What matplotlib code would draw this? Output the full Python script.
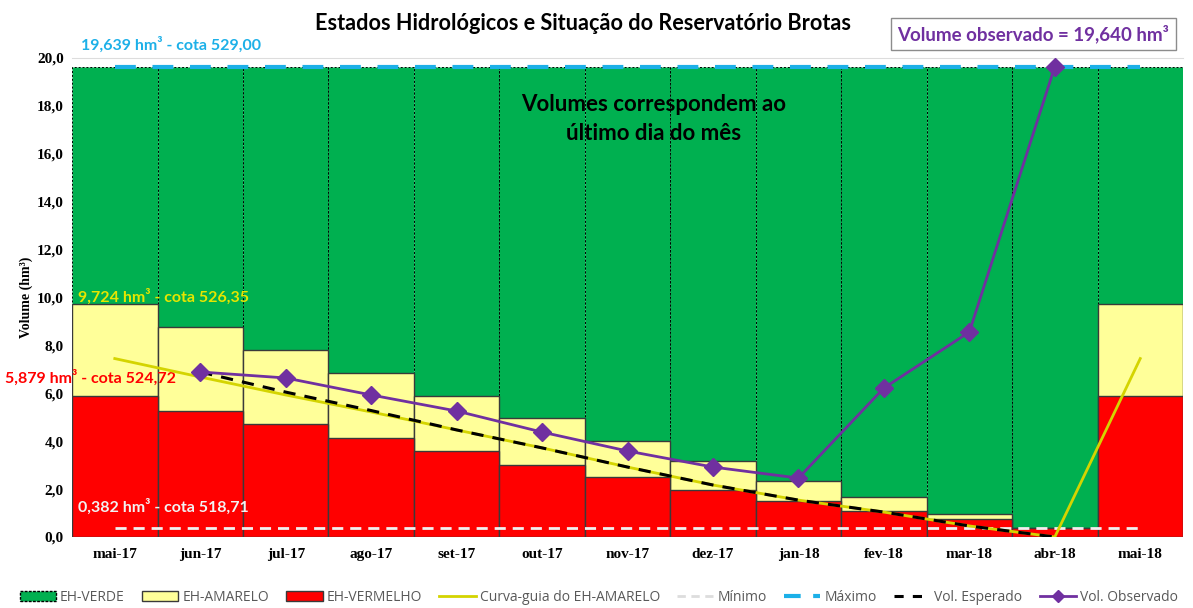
import numpy as np
import matplotlib.pyplot as plt
from matplotlib.lines import Line2D
from matplotlib.patches import Patch
from matplotlib.ticker import FuncFormatter

months = ["mai-17", "jun-17", "jul-17", "ago-17", "set-17", "out-17", "nov-17",
          "dez-17", "jan-18", "fev-18", "mar-18", "abr-18", "mai-18"]

# tops of each hydrological state band (hm³)
eh_verde = [19.639] * 13
eh_amarelo = [9.724, 8.77, 7.81, 6.85, 5.89, 4.97, 4.01, 3.17, 2.34, 1.67, 0.96, 0.382, 9.724]
eh_vermelho = [5.879, 5.26, 4.72, 4.13, 3.59, 3.00, 2.50, 1.96, 1.50, 1.09, 0.75, 0.382, 5.879]

curva_guia = [7.45, 6.68, 5.93, 5.22, 4.47, 3.72, 2.92, 2.17, 1.54, 1.04, 0.46, 0.0, 7.45]
vol_esperado = [np.nan, 6.89, 6.05, 5.28, 4.47, 3.72, 2.92, 2.17, 1.54, 1.04, 0.46, 0.0, np.nan]
vol_observado = [np.nan, 6.89, 6.64, 5.93, 5.26, 4.38, 3.59, 2.92, 2.46, 6.22, 8.56, 19.640, np.nan]
minimo = [0.382] * 13
maximo = [19.639] * 13

GREEN = "#00B050"
YELLOW = "#FFFF99"
RED = "#FF0000"
GUIDE = "#D4D400"
PURPLE = "#7030A0"
CYAN = "#1CB0E8"

fig = plt.figure(figsize=(11.93, 6.08), dpi=100)
ax = fig.add_axes([0.0604, 0.1168, 0.9312, 0.7878])

x = np.arange(len(months))

ax.bar(x, eh_verde, width=1.0, color=GREEN, edgecolor="black", linewidth=0.7,
       linestyle=(0, (2, 2)), zorder=1)
ax.bar(x, eh_amarelo, width=1.0, color=YELLOW, edgecolor="#3a3a3a", linewidth=1.0, zorder=2)
ax.bar(x, eh_vermelho, width=1.0, color=RED, edgecolor="#3a3a3a", linewidth=1.0, zorder=3)

ax.plot(x, minimo, color="#F0F0F0", linestyle=(0, (4, 2.5)), linewidth=2, zorder=4)
ax.plot(x, maximo, color=CYAN, linestyle=(0, (5, 4)), linewidth=3, zorder=4)
ax.plot(x, curva_guia, color=GUIDE, linewidth=2, zorder=5)
ax.plot(x, vol_esperado, color="black", linestyle=(0, (4, 3)), linewidth=2.2, zorder=6)
ax.plot(x, vol_observado, color=PURPLE, linewidth=2, marker="D", markersize=9, zorder=7)

ax.set_xlim(-0.5, 12.5)
ax.set_ylim(0, 20)
ax.set_yticks(np.arange(0, 20.1, 2))
ax.yaxis.set_major_formatter(FuncFormatter(lambda v, p: f"{v:.1f}".replace(".", ",")))
ax.set_xticks(x)
ax.set_xticklabels(months)
ax.tick_params(length=0, pad=8)
for lab in ax.get_xticklabels() + ax.get_yticklabels():
    lab.set_fontfamily("Liberation Serif")
    lab.set_fontweight("bold")
    lab.set_fontsize(11)
ax.tick_params(axis="y", pad=6)
ax.set_ylabel("Volume (hm³)", fontfamily="Liberation Serif", fontweight="bold",
              fontsize=10, labelpad=3)
for s in ["left", "right", "bottom"]:
    ax.spines[s].set_visible(False)
ax.spines["top"].set_color("#dddddd")
ax.spines["top"].set_linewidth(0.8)

sans = "Lato"
fig.text(0.489, 0.962, "Estados Hidrológicos e Situação do Reservatório Brotas",
         ha="center", va="center", fontsize=15.6, fontweight="bold", fontfamily=sans)
fig.text(0.866, 0.944, "Volume observado = 19,640 hm³", ha="center", va="center",
         fontsize=13.5, fontweight="bold", color=PURPLE, fontfamily=sans,
         bbox=dict(boxstyle="square,pad=0.35", facecolor="white", edgecolor="#8c8c8c", linewidth=1))

ax.text(-0.39, 20.55, "19,639 hm³ - cota 529,00", color=CYAN, fontsize=11.5,
        fontweight="bold", fontfamily=sans, va="center")
ax.text(-0.43, 10.05, "9,724 hm³ - cota 526,35", color="#E6E600", fontsize=11.5,
        fontweight="bold", fontfamily=sans, va="center")
ax.text(-1.28, 6.67, "5,879 hm³ - cota 524,72", color=RED, fontsize=11.5,
        fontweight="bold", fontfamily=sans, va="center", clip_on=False)
ax.text(-0.43, 1.25, "0,382 hm³ - cota 518,71", color="#F2F2F2", fontsize=11.5,
        fontweight="bold", fontfamily=sans, va="center")
ax.text(6.3, 17.45, "Volumes correspondem ao\núltimo dia do mês", ha="center", va="center",
        fontsize=16, fontweight="bold", fontfamily=sans, linespacing=1.45)

handles = [
    Patch(facecolor=GREEN, edgecolor="black", linestyle=(0, (2, 1)), linewidth=1),
    Patch(facecolor=YELLOW, edgecolor="#3a3a3a", linewidth=1),
    Patch(facecolor=RED, edgecolor="#3a3a3a", linewidth=1),
    Line2D([], [], color=GUIDE, linewidth=2),
    Line2D([], [], color="#DDDDDD", linestyle=(0, (3, 2)), linewidth=2),
    Line2D([], [], color=CYAN, linestyle=(0, (4, 3)), linewidth=3),
    Line2D([], [], color="black", linestyle=(0, (3, 3)), linewidth=2.2),
    Line2D([], [], color=PURPLE, linewidth=2, marker="D", markersize=6),
]
labels = ["EH-VERDE", "EH-AMARELO", "EH-VERMELHO", "Curva-guia do EH-AMARELO",
          "Mínimo", "Máximo", "Vol. Esperado", "Vol. Observado"]
leg = fig.legend(handles, labels, loc="center", bbox_to_anchor=(0.502, 0.017), ncol=8,
                 frameon=False, handlelength=2.6, handletextpad=0.3, columnspacing=1.25,
                 prop={"family": "Open Sans", "size": 10})
for t in leg.get_texts():
    t.set_color("#595959")

fig.savefig("out.png", dpi=100)
